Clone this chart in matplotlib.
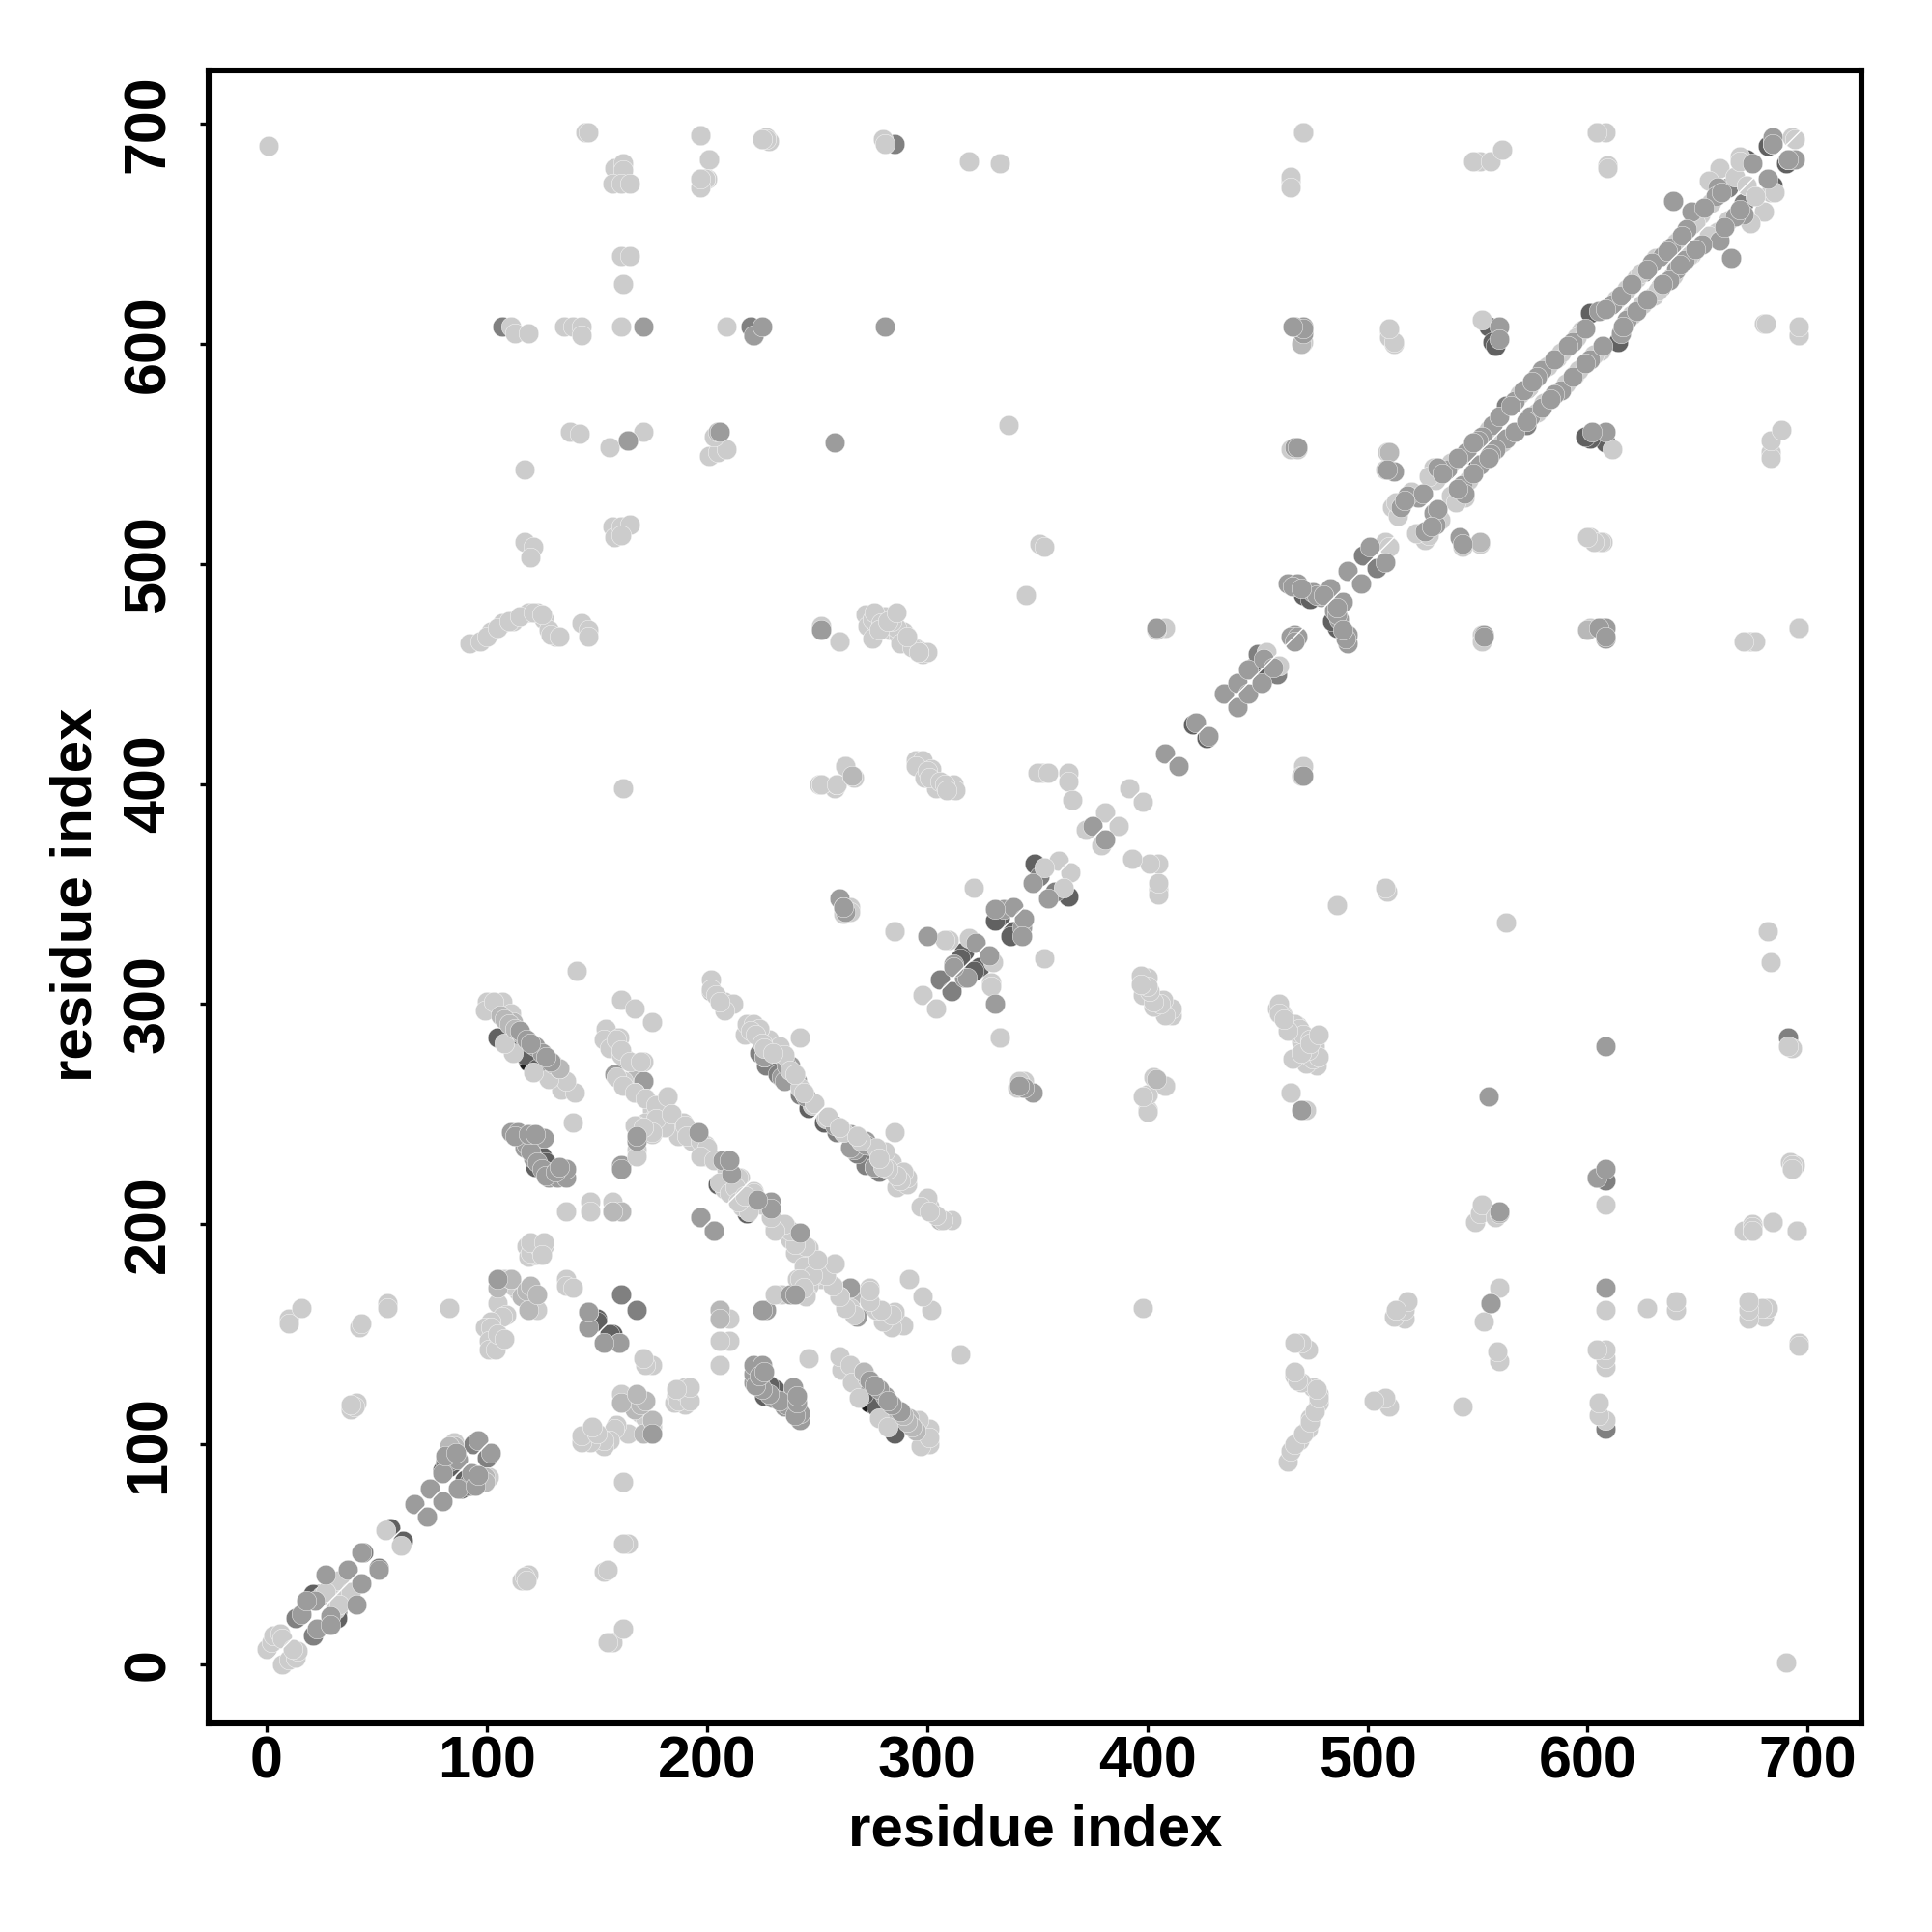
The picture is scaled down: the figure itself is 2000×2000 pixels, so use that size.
import matplotlib
matplotlib.use("Agg")
import matplotlib.pyplot as plt

# contact map is symmetric, so only the i < j half is listed
# one pair of lists per grey shade, darkest gets drawn first
black_i = [111, 111, 119, 110]
black_j = [282, 285, 274, 283]

dark_i = [105, 117, 123, 125, 127, 122, 148, 150, 150, 205, 246, 228, 349, 333, 331, 317, 315,
          555, 557, 558, 601, 626, 471, 474, 672, 682, 56, 24, 82, 210, 221, 545, 448, 421, 129,
          21, 80, 84]
dark_j = [285, 277, 271, 231, 228, 226, 157, 157, 156, 218, 253, 274, 364, 339, 338, 324, 321,
          608, 601, 599, 614, 633, 486, 484, 684, 690, 62, 32, 90, 215, 604, 550, 453, 427, 224,
          32, 88, 90]

dim_i = [44, 13, 161, 306, 224, 664, 107, 285, 498, 83, 94, 220, 234, 450, 563, 351, 659, 242, 227, 232, 81]
dim_j = [51, 21, 168, 311, 278, 671, 608, 691, 504, 92, 100, 608, 267, 459, 572, 358, 671, 259, 272, 268, 92]

light_i = [0, 2, 3, 6, 7, 25, 30, 54, 85, 98, 10, 10, 16, 42, 43, 55, 55, 83,
           108, 119, 123, 105, 109, 107, 102, 99, 102, 101, 101, 104, 136, 136, 139,
           38, 41, 40, 38, 118, 122, 126, 119, 122, 124,
           100, 107, 99, 103, 111, 134, 140, 136, 128, 112, 108, 121,
           133, 139, 141, 136, 147, 147, 161, 157, 157,
           217, 228, 285, 254,
           435, 392, 381, 372, 360, 353, 321, 285, 310, 308, 319, 298, 408, 345,
           352, 350, 355, 295, 298, 295, 302, 299, 304, 312, 313, 364, 364, 366,
           272, 278, 285, 290, 296, 273, 252, 260, 265,
           471, 465, 465, 551, 548, 556, 561, 604, 608, 609,
           669, 660, 655, 651, 641, 622, 618, 597, 586, 573, 530, 531, 511, 514, 454,
           509, 508, 465, 471, 510, 510, 512, 552, 465, 471, 508,
           1, 145, 197, 201, 198, 200, 225, 228, 227, 280, 281, 319, 333, 158, 162, 162, 157, 161, 165,
           161, 165, 162, 111, 113, 119, 135, 139, 143, 143, 161, 209,
           138, 142, 156, 171, 201, 205, 209, 203, 337, 117, 117, 121, 120, 157, 158, 161, 165, 161,
           351, 353, 92, 97, 102, 107, 112, 119, 123, 126, 128, 131, 143, 146, 146,
           162, 251, 258, 263, 267, 260, 262, 265,
           684, 683, 672, 651, 601, 607, 675, 671, 675, 693, 696,
           552, 680, 471, 199, 197, 201, 197, 227, 225, 696, 404, 400, 400, 408,
           # filling the dense bands
           275, 277, 280, 283, 287, 292, 294, 298, 300, 100, 105, 110, 115, 121, 125, 129, 133,
           300, 301, 306, 308, 309, 120, 124, 120, 126, 125, 105, 108, 114, 112, 118,
           555, 569, 582, 588, 595, 613, 624, 631, 640, 649, 656, 667, 513, 520, 528, 538,
           460, 467, 296, 291, 289, 286, 284, 281, 276, 279, 288, 293, 275, 278, 282, 286,
           400, 400, 404, 408, 33, 27]
light_j = [7, 10, 13, 14, 12, 31, 35, 61, 101, 85, 157, 155, 162, 153, 155, 164, 162, 162,
           175, 165, 161, 164, 159, 158, 156, 153, 153, 147, 143, 143, 175, 172, 171,
           116, 119, 117, 118, 190, 190, 190, 185, 186, 188,
           301, 301, 297, 301, 296, 261, 260, 265, 266, 278, 282, 269,
           271, 246, 315, 206, 210, 206, 206, 210, 206,
           286, 284, 333, 248,
           441, 398, 387, 379, 365, 362, 353, 333, 329, 329, 330, 304, 471, 486,
           405, 405, 405, 411, 411, 408, 407, 403, 398, 400, 397, 405, 401, 393,
           477, 476, 472, 468, 461, 472, 472, 465, 344,
           696, 674, 676, 683, 683, 683, 688, 696, 696, 681,
           685, 680, 674, 659, 647, 630, 625, 606, 594, 580, 544, 538, 526, 522, 460,
           551, 543, 552, 601, 606, 603, 600, 611, 671, 696, 510,
           690, 696, 695, 684, 675, 675, 693, 692, 694, 693, 691, 683, 682, 680, 682, 679, 673, 673, 673,
           640, 640, 627, 608, 605, 605, 608, 608, 608, 604, 608, 608,
           560, 559, 553, 560, 549, 551, 552, 558, 563, 543, 510, 508, 503, 517, 512, 517, 518, 513,
           509, 508, 464, 465, 469, 473, 474, 478, 478, 475, 470, 467, 473, 470, 467,
           398, 400, 398, 408, 403, 465, 341, 342,
           691, 669, 672, 659, 512, 510, 199, 197, 197, 694, 604,
           468, 609, 696, 675, 675, 684, 695, 693, 693, 146, 470, 259, 252, 263,
           # filling the dense bands
           475, 473, 472, 470, 468, 464, 462, 459, 460, 467, 471, 474, 476, 478, 477, 468, 467,
           406, 403, 401, 400, 397, 187, 189, 192, 192, 186, 150, 148, 170, 172, 169,
           561, 577, 590, 596, 603, 620, 632, 639, 646, 655, 664, 676, 528, 533, 540, 546,
           296, 291, 460, 467, 469, 471, 474, 476, 478, 473, 464, 462, 466, 470, 474, 478,
           252, 259, 266, 263, 38, 33]

# slightly darker than the light points, sit between light and mid
pale_i = [105, 105, 111, 116, 119, 112, 130, 133, 161, 157, 164, 167, 202, 224,
          85, 83, 111, 171, 205, 510, 404, 470, 118, 120, 123, 106, 108, 110, 113, 116]
pale_j = [175, 171, 175, 167, 161, 292, 273, 271, 206, 206, 556, 266, 306, 289,
          99, 99, 175, 265, 560, 551, 266, 600, 170, 172, 168, 295, 293, 291, 289, 286]

mid_i = [27, 37, 16, 22, 43, 67, 74, 96, 87, 80, 81, 105, 146, 146, 160,
         111, 114, 117, 124, 126, 121, 128, 132, 136, 136, 117,
         115, 122, 125, 129, 158, 163, 158, 171, 161, 161, 197, 203,
         234, 241, 235, 238, 226, 276,
         422, 435, 441, 408, 375, 348, 335, 339, 331, 300, 312, 322, 317, 404,
         260, 262, 263, 344, 252,
         659, 684, 684, 675, 658, 647, 645, 638, 634, 629, 611, 605, 593, 579, 577, 567, 557, 552, 545,
         536, 532, 523, 518, 515, 501, 491, 464, 468, 479, 483, 467, 471, 471,
         560, 560, 512, 509, 467, 639, 465, 467, 607, 608, 553,
         171, 221, 225, 281, 258, 164, 206, 446, 453,
         # filling the dense bands
         118, 120, 127, 118, 120, 123, 125, 127, 131, 133, 113, 119, 122,
         560, 565, 571, 575, 585, 591, 599, 608, 615, 620, 627, 636, 643, 653, 661,
         550, 548, 541, 534, 525, 517, 475, 477, 466, 470, 480, 230, 236, 240, 244, 245,
         18, 86]
mid_j = [41, 43, 23, 29, 51, 73, 80, 102, 93, 87, 95, 175, 160, 153, 146,
         242, 242, 239, 239, 239, 230, 221, 221, 221, 225, 235,
         288, 281, 278, 274, 285, 275, 268, 265, 227, 225, 203, 197,
         267, 265, 265, 272, 276, 226,
         428, 441, 446, 414, 381, 355, 343, 344, 343, 331, 318, 328, 312, 471,
         348, 344, 342, 262, 470,
         671, 694, 691, 682, 667, 660, 652, 644, 640, 637, 618, 615, 601, 588, 585, 574, 563, 558, 551,
         543, 544, 530, 531, 526, 508, 497, 491, 491, 485, 489, 553, 608, 605,
         608, 602, 542, 543, 468, 665, 467, 608, 471, 466, 468,
         608, 604, 608, 608, 555, 556, 560, 452, 457,
         284, 282, 276, 236, 233, 228, 225, 222, 224, 226, 240, 241, 241,
         567, 572, 579, 583, 593, 599, 607, 616, 622, 627, 634, 642, 649, 662, 669,
         556, 555, 548, 541, 532, 529, 487, 486, 490, 489, 486, 278, 272, 268, 260, 258,
         29, 96]

# light band of the long helix, covers the darker ones below it
top_i = [154, 153, 160, 156, 161, 171, 162, 167, 172, 176, 182, 184, 189, 193, 199, 215,
         198, 187, 181, 175, 176, 172, 175, 168, 168, 168, 161, 167, 175,
         202, 202, 208, 212, 208, 218, 221, 224, 233, 235, 238, 242, 242, 249,
         159, 161, 165, 170, 159, 162, 167, 172, 177, 177, 182, 184, 190, 191, 197, 200, 197, 203, 209, 208, 214,
         167, 175, 171, 204, 206, 220, 222, 225, 226, 230, 240, 244, 206, 210, 213]
top_j = [289, 284, 285, 280, 277, 274, 265, 260, 257, 254, 258, 249, 246, 238, 236, 221,
         231, 240, 244, 252, 248, 246, 241, 245, 234, 231, 302, 298, 292,
         311, 307, 301, 300, 297, 291, 291, 289, 281, 277, 270, 285, 262, 255,
         284, 279, 274, 274, 267, 263, 260, 257, 254, 248, 258, 250, 245, 240, 238, 235, 231, 229, 225, 216, 221,
         245, 242, 244, 304, 301, 288, 286, 282, 280, 278, 268, 260, 219, 214, 217]

# mid grey dots that sit on top of the light band
accent_i = [196, 207, 211, 168, 168, 229]
accent_j = [242, 229, 223, 238, 240, 210]

shade_levels = [0.10, 0.38, 0.50, 0.80, 0.72, 0.61, 0.80, 0.61]
shade_i = [black_i, dark_i, dim_i, light_i, pale_i, mid_i, top_i, accent_i]
shade_j = [black_j, dark_j, dim_j, light_j, pale_j, mid_j, top_j, accent_j]

plt.rcParams["font.family"] = ["Liberation Sans", "DejaVu Sans"]
plt.rcParams["font.weight"] = "bold"

fig = plt.figure(figsize=(10, 10), dpi=200)
ax = fig.add_axes([216 / 2000, 216 / 2000, 1711 / 2000, 1711 / 2000])

for level, i_vals, j_vals in zip(shade_levels, shade_i, shade_j):
    color = str(level)
    # both sides of the diagonal
    ax.scatter(i_vals, j_vals, s=55, c=color, edgecolors="white", linewidths=0.15, zorder=3)
    ax.scatter(j_vals, i_vals, s=55, c=color, edgecolors="white", linewidths=0.15, zorder=3)

# thin white diagonal over the points
ax.plot([0, 700], [0, 700], color="white", lw=0.5, zorder=4)

ax.set_xlim(-26.3, 724.4)
ax.set_ylim(-26.8, 724.2)
ax.set_xticks(range(0, 701, 100))
ax.set_yticks(range(0, 701, 100))
ax.tick_params(axis="both", length=3.2, width=1.2, labelsize=22)
ax.tick_params(axis="x", pad=1.3)
ax.tick_params(axis="y", pad=8.6)
for label in ax.get_yticklabels():
    label.set_rotation(90)
    label.set_va("center")
for spine in ax.spines.values():
    spine.set_linewidth(2.2)

fig.text(1072 / 2000, 1 - 1895 / 2000, "residue index", fontsize=21.6, fontweight="bold", ha="center", va="center")
fig.text(79 / 2000, 1 - 926 / 2000, "residue index", fontsize=21.6, fontweight="bold", ha="center", va="center", rotation=90)

fig.savefig("out.png", dpi=200)
